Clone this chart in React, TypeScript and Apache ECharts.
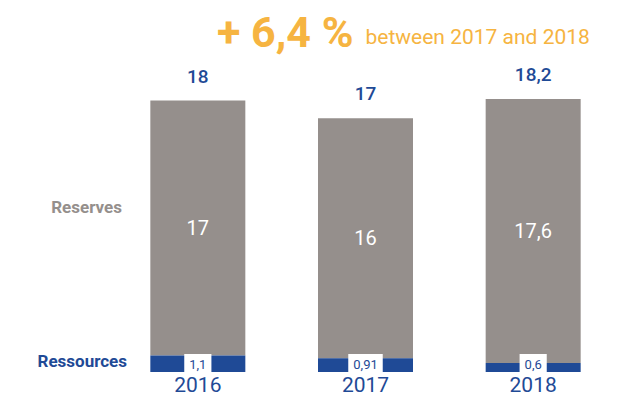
import React, { useEffect, useRef } from "react";
import * as echarts from "echarts";

const years = ["2016", "2017", "2018"];
const reserves = [17, 16, 17.6];
const ressources = [1.1, 0.91, 0.6];
const totals = [18, 17, 18.2];
const growthLabel = "+ 6,4 %";
const growthText = "between 2017 and 2018";

const BLUE = "#1f4a96";
const GRAY = "#958f8c";
const ORANGE = "#f6b441";
const FONT = "Roboto, 'Open Sans', sans-serif";

const fmt = (v: number) => String(v).replace(".", ",");

export default function App() {
  const ref = useRef<HTMLDivElement>(null);
  useEffect(() => {
    if (!ref.current) return;
    const chart = echarts.init(ref.current, null, { renderer: "svg" });
    chart.setOption({
      animation: false,
      backgroundColor: "#ffffff",
      textStyle: { fontFamily: FONT },
      title: {
        text: `{big|${growthLabel}}{gap|}{small|${growthText}}`,
        left: 212,
        top: 5,
        textStyle: {
          fontWeight: "normal",
          rich: {
            big: { fontSize: 43, fontWeight: "bold", color: ORANGE, fontFamily: FONT },
            gap: { width: 12 },
            small: { fontSize: 21, fontWeight: "normal", color: ORANGE, fontFamily: FONT, padding: [11, 0, 0, 0] },
          },
        },
      },
      grid: { left: 114, width: 506, top: 72, height: 300 },
      xAxis: {
        type: "category",
        data: years,
        axisLine: { show: false },
        axisTick: { show: false },
        axisLabel: { color: BLUE, fontSize: 21, margin: 2, fontFamily: FONT },
      },
      yAxis: {
        type: "value",
        min: 0,
        max: 20,
        show: false,
        splitLine: { show: false },
      },
      graphic: [
        {
          type: "text",
          right: 617 - 122,
          top: 198,
          style: { text: "Reserves", fill: GRAY, fontSize: 17, fontWeight: "bold", fontFamily: FONT },
        },
        {
          type: "text",
          right: 617 - 127,
          top: 352,
          style: { text: "Ressources", fill: BLUE, fontSize: 17, fontWeight: "bold", fontFamily: FONT },
        },
      ],
      series: [
        {
          name: "Ressources",
          type: "bar",
          stack: "t",
          barWidth: 95,
          data: ressources,
          itemStyle: { color: BLUE },
          label: {
            show: true,
            position: "insideBottom",
            distance: 0,
            formatter: (p: any) => fmt(p.value),
            color: BLUE,
            fontSize: 13,
            fontFamily: FONT,
            backgroundColor: "#ffffff",
            padding: [4, 5, 1, 5],
          },
          z: 2,
        },
        {
          name: "Reserves",
          type: "bar",
          stack: "t",
          barWidth: 95,
          data: reserves,
          itemStyle: { color: GRAY },
          label: {
            show: true,
            position: "inside",
            formatter: (p: any) => fmt(p.value),
            color: "#ffffff",
            fontSize: 20,
            fontFamily: FONT,
          },
          z: 1,
        },
        {
          name: "Total",
          type: "bar",
          stack: "t",
          barWidth: 95,
          data: totals.map(() => 0),
          itemStyle: { color: "transparent" },
          label: {
            show: true,
            position: "top",
            distance: 15,
            formatter: (p: any) => fmt(totals[p.dataIndex]),
            color: BLUE,
            fontSize: 19,
            fontWeight: 500,
            fontFamily: FONT,
          },
        },
      ],
    });
    return () => chart.dispose();
  }, []);
  return (
    <div
      ref={ref}
      style={{ position: "fixed", left: 0, top: 0, width: 617, height: 410 }}
    />
  );
}
